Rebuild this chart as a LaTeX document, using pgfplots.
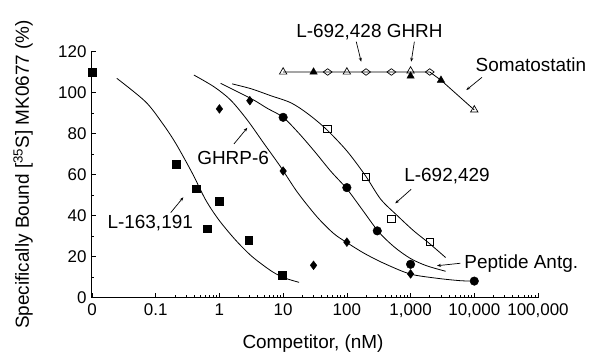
\documentclass[border=0pt]{standalone}
\usepackage{fontspec}
\setmainfont{Liberation Sans}
\usepackage{pgfplots}
\pgfplotsset{compat=1.18}
\usetikzlibrary{arrows.meta}
\begin{document}
\begin{tikzpicture}
\useasboundingbox (-92bp,-54.5bp) rectangle (498bp,297.5bp);
\begin{axis}[
  at={(0,0)}, anchor=south west,
  scale only axis, width=446bp, height=246bp,
  xmode=log, xmin=0.01, xmax=100000, ymin=0, ymax=120,
  axis x line*=bottom, axis y line*=left,
  axis line style={line width=1bp},
  xtick={0.01,0.1,1,10,100,1000,10000,100000},
  xticklabels={0,0.1,1,10,100,{1,000},{10,000},{100,000}},
  minor xtick={0.2,0.3,0.4,0.5,0.6,0.7,0.8,0.9,2,3,4,5,6,7,8,9,20,30,40,50,60,70,80,90,200,300,400,500,600,700,800,900,2000,3000,4000,5000,6000,7000,8000,9000,20000,30000,40000,50000,60000,70000,80000,90000},
  ytick={0,20,40,60,80,100,120},
  minor ytick={10,30,50,70,90,110},
  tick align=inside,
  major tick length=4bp, minor tick length=2bp,
  every tick/.style={black, line width=0.7bp},
  tick label style={font=\fontsize{17}{17}\selectfont},
  /pgf/number format/assume math mode=true,
  xticklabel style={yshift=-2.5bp},
  yticklabel style={xshift=-2bp},
  xlabel={Competitor, (nM)},
  ylabel={Specifically Bound [\textsuperscript{35}S] MK0677 (\%)},
  label style={font=\fontsize{19}{19}\selectfont},
  xlabel style={at={(axis description cs:0.4955,-0.2073)}, anchor=base},
  ylabel style={at={(axis description cs:-0.1547,0.5)}, anchor=center},
  clip=false,
]
% fitted curves
\addplot[black, line width=0.8bp, smooth] coordinates {
 (0.02455,106.9) (0.06918,95.5) (0.1274,85) (0.2061,75.2) (0.3758,60.6)
 (0.6081,47.6) (0.9817,37.8) (1.795,28) (3.273,19.9) (6.761,12.6)
 (10.89,9.4) (17.78,7.4)};
\addplot[black, line width=0.8bp, smooth] coordinates {
 (0.3981,108.5) (0.8204,102.8) (1.500,96.3) (2.735,86.6) (4.977,75.2)
 (9.099,63.8) (16.60,51.5) (33.88,39.4) (61.66,31.3) (97.72,27.0)
 (186.2,21.6) (380.2,16.7) (977.2,11.5) (2570,9.4) (6026,8.2) (10000,8.0)};
\addplot[black, line width=0.8bp, smooth] coordinates {
 (1.045,104.5) (1.905,100.4) (3.467,96.3) (5.623,92.3) (10,87.9)
 (17.78,80) (31.62,71) (56.23,61.5) (100,53) (177.8,42.5) (316.2,32)
 (562.3,24.5) (1000,19) (1778,15.5) (3548,12.8)};
\addplot[black, line width=0.8bp, smooth] coordinates {
 (1.585,104.2) (3.162,101.8) (6.310,98.5) (13.18,95) (23.99,89.8)
 (46.77,82.3) (100,71.5) (195,59.5) (338.8,48) (616.6,40) (1122,32.5)
 (1950,26.5) (3548,19.5)};
% top row line
\addplot[black, line width=0.8bp] coordinates {(10,110) (2000,110) (3000,106) (10000,91.5)};
% L-163,191
\addplot[only marks, mark=square*, mark size=3.8bp, mark options={black}] coordinates {
 (0.01,110) (0.21,65) (0.43,53) (0.64,33.5) (1,47) (2.9,28) (9.6,11)};
% GHRP-6
\addplot[only marks, mark=diamond*, mark size=4.4bp, mark options={black}] coordinates {
 (1,92) (3,96) (10,61.7) (30,15.7) (100,27) (1000,11.5)};
% Peptide Antg.
\addplot[only marks, mark=*, mark size=4.3bp, mark options={black}] coordinates {
 (10,87.9) (100,53.6) (300,32.5) (1000,16.2) (10000,8)};
% L-692,429
\addplot[only marks, mark=square, mark size=3.8bp, mark options={black, fill=white, line width=0.8bp}] coordinates {
 (50,82.3) (200,58.9) (500,38.3) (2000,27.1)};
% filled triangles
\addplot[only marks, mark=triangle*, mark size=4.3bp, mark options={black}] coordinates {
 (30,110) (1000,108) (3000,106)};
% open diamonds
\addplot[only marks, mark=diamond, mark size=4.4bp, mark options={black, fill=white, rotate=90, line width=0.7bp}] coordinates {
 (50,110) (200,110) (500,110) (2000,110)};
% open triangles
\addplot[only marks, mark=triangle, mark size=4.3bp, mark options={black, fill=white, line width=0.7bp}] coordinates {
 (10,110) (100,110) (1000,110.5) (10000,91.5)};
% annotations
\begin{scope}[every node/.style={font=\fontsize{19}{19}\selectfont, inner sep=0pt}]
\node at (axis cs:226,129.7) {L-692,428 GHRH};
\node at (axis cs:77600,113.4) {Somatostatin};
\node at (axis cs:1.64,67.9) {GHRP-6};
\node at (axis cs:0.082,36.2) {L-163,191};
\node at (axis cs:3733,59.4) {L-692,429};
\node at (axis cs:54600,16.3) {Peptide Antg.};
\end{scope}
\begin{scope}[line width=0.7bp, -{Stealth[length=4bp,width=3bp]}]
\draw (axis cs:140.4,124.8) -- (axis cs:168,115);
\draw (axis cs:1148,124.8) -- (axis cs:1023,115);
\draw (axis cs:13200,107.4) -- (axis cs:7500,101.2);
\draw (axis cs:1.69,74.9) -- (axis cs:2.74,82.8);
\draw (axis cs:0.172,41.4) -- (axis cs:0.272,48.9);
\draw (axis cs:1023,52.8) -- (axis cs:575,45.9);
\draw (axis cs:6030,16.7) -- (axis cs:2600,15.5);
\end{scope}
\end{axis}
\end{tikzpicture}
\end{document}
